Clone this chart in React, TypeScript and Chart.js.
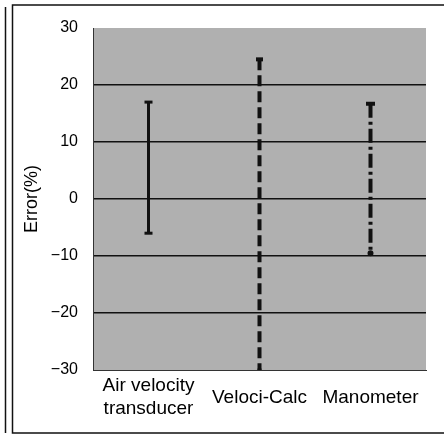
import React, { useEffect, useRef } from "react";
import { Chart, registerables } from "chart.js";

Chart.register(...registerables);

const categories = ["Air velocity transducer", "Veloci-Calc", "Manometer"];
const tickLabels: (string | string[])[] = [["Air velocity", "transducer"], "Veloci-Calc", "Manometer"];
const errorHigh = [17, 24.5, 16.7];
const errorLow = [-6, -30, -9.5];
const yTicks = [-30, -20, -10, 0, 10, 20, 30];
const dashStyles: number[][] = [[], [11, 5], [14, 4, 3, 4]];
const lineWidths = [3, 4, 4];
const pointStyles = [["line", "line"], ["line", "line"], ["line", "circle"]];
const pointRadii = [[4, 4], [3.5, 2], [4.5, 2]];
const pointWidths = [[3, 3], [4, 3], [4, 2]];

const FONT = "Liberation Sans, Arial, sans-serif";

const framePlugin = {
  id: "frame",
  beforeDraw(chart: any) {
    const { ctx, chartArea } = chart;
    ctx.save();
    ctx.fillStyle = "#ffffff";
    ctx.fillRect(0, 0, chart.width, chart.height);
    ctx.fillStyle = "#b0b0b0";
    ctx.fillRect(chartArea.left, chartArea.top, chartArea.right - chartArea.left, chartArea.bottom - chartArea.top);
    ctx.strokeStyle = "#111";
    ctx.lineWidth = 1.5;
    ctx.beginPath();
    ctx.moveTo(444, 5);
    ctx.lineTo(12.5, 5);
    ctx.lineTo(12.5, 433);
    ctx.lineTo(444, 433);
    ctx.stroke();
    ctx.beginPath();
    ctx.moveTo(5.5, 7);
    ctx.lineTo(5.5, 433);
    ctx.stroke();
    ctx.restore();
  },
};

export default function App() {
  const ref = useRef<HTMLCanvasElement | null>(null);
  useEffect(() => {
    if (!ref.current) return;
    const chart = new Chart(ref.current, {
      type: "line",
      data: {
        labels: categories,
        datasets: categories.map((c, i) => ({
          label: c,
          data: [
            { x: c, y: errorHigh[i] },
            { x: c, y: errorLow[i] },
          ],
          borderColor: "#111",
          backgroundColor: "#111",
          borderWidth: lineWidths[i],
          borderDash: dashStyles[i],
          pointStyle: pointStyles[i] as any,
          pointRadius: pointRadii[i],
          pointBorderWidth: pointWidths[i],
          pointBorderColor: "#111",
          pointBackgroundColor: "#111",
          fill: false,
        })),
      },
      options: {
        animation: false,
        responsive: false,
        layout: { padding: { left: 21, right: 18, top: 28, bottom: 0 } },
        plugins: { legend: { display: false }, tooltip: { enabled: false } },
        scales: {
          x: {
            type: "category",
            offset: true,
            afterFit: (scale: any) => {
              scale.height = 66;
            },
            grid: { display: false },
            border: { display: true, color: "#333", width: 1 },
            ticks: {
              color: "#000",
              font: { family: FONT, size: 19, lineHeight: 1.22 },
              padding: 8,
              maxRotation: 0,
              autoSkip: false,
              crossAlign: "center",
              callback: (_v: any, i: number) => tickLabels[i],
            },
          },
          y: {
            min: -30,
            max: 30,
            afterBuildTicks: (scale: any) => {
              scale.ticks = yTicks.map((v) => ({ value: v }));
            },
            afterFit: (scale: any) => {
              scale.width = 72;
            },
            grid: {
              color: (ctx: any) => (Math.abs(ctx.tick?.value) === 30 ? "rgba(0,0,0,0)" : "#111"),
              lineWidth: 1.5,
              tickLength: 0,
            },
            border: { display: true, color: "#333", width: 1 },
            ticks: {
              color: "#000",
              font: { family: FONT, size: 16 },
              padding: 15,
              callback: (v: any) => String(v).replace("-", "\u2212"),
            },
            title: {
              display: true,
              text: "Error(%)",
              color: "#000",
              font: { family: FONT, size: 18 },
              padding: { top: 0, bottom: 0 },
            },
          },
        },
      },
      plugins: [framePlugin],
    });
    return () => chart.destroy();
  }, []);
  return (
    <div style={{ position: "absolute", left: 0, top: 0, width: 444, height: 436 }}>
      <canvas ref={ref} width={444} height={436} style={{ display: "block" }} />
    </div>
  );
}
